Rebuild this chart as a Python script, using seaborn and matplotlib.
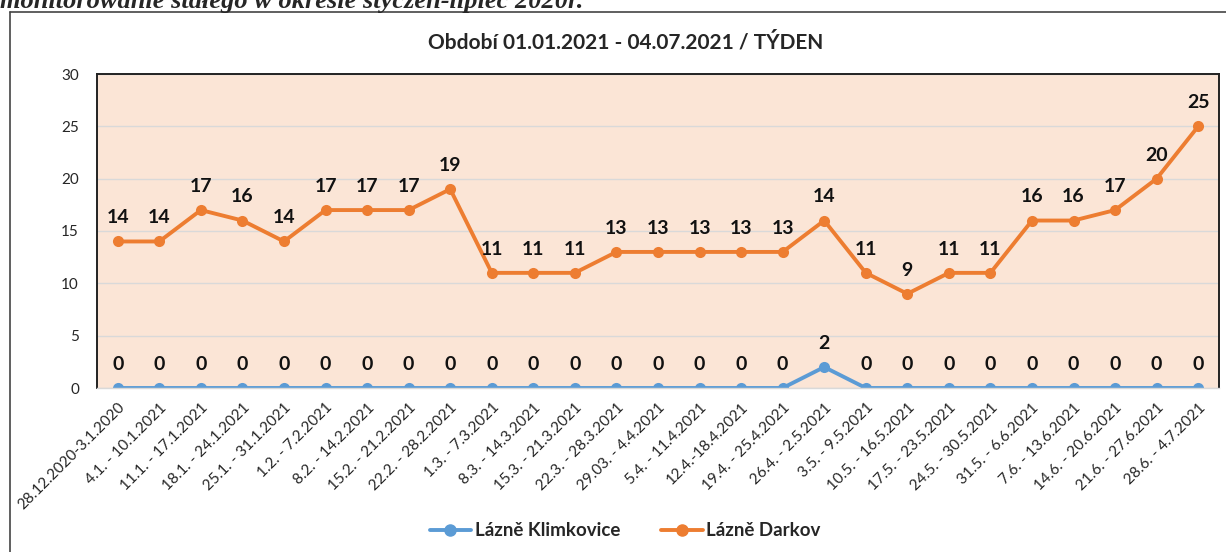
import numpy as np
import pandas as pd
import seaborn as sns
import matplotlib.pyplot as plt
from matplotlib.lines import Line2D

weeks = ['28.12.2020-3.1.2020', '4.1. - 10.1.2021', '11.1. - 17.1.2021', '18.1. - 24.1.2021',
         '25.1. - 31.1.2021', '1.2. - 7.2.2021', '8.2. - 14.2.2021', '15.2. - 21.2.2021',
         '22.2. - 28.2.2021', '1.3. - 7.3.2021', '8.3. - 14.3.2021', '15.3. - 21.3.2021',
         '22.3. - 28.3.2021', '29.03. - 4.4.2021', '5.4. - 11.4.2021', '12.4.-18.4.2021',
         '19.4. - 25.4.2021', '26.4. - 2.5.2021', '3.5. - 9.5.2021', '10.5. - 16.5.2021',
         '17.5. - 23.5.2021', '24.5. - 30.5.2021', '31.5. - 6.6.2021', '7.6. - 13.6.2021',
         '14.6. - 20.6.2021', '21.6. - 27.6.2021', '28.6. - 4.7.2021']
klimkovice = [0, 0, 0, 0, 0, 0, 0, 0, 0, 0, 0, 0, 0, 0, 0, 0, 0, 2, 0, 0, 0, 0, 0, 0, 0, 0, 0]
darkov = [14, 14, 17, 16, 14, 17, 17, 17, 19, 11, 11, 11, 13, 13, 13, 13, 13, 16, 11, 9, 11, 11, 16, 16, 17, 20, 25]
# labels as printed in the source chart (the 26.4. point is labelled 14)
darkov_labels = [14, 14, 17, 16, 14, 17, 17, 17, 19, 11, 11, 11, 13, 13, 13, 13, 13, 14, 11, 9, 11, 11, 16, 16, 17, 20, 25]
series = ['Lázně Klimkovice', 'Lázně Darkov']
colors = ['#5B9BD5', '#ED7D31']

df = pd.concat([
    pd.DataFrame({'Týden': weeks, 'Počet': klimkovice, 'Lázně': series[0]}),
    pd.DataFrame({'Týden': weeks, 'Počet': darkov, 'Lázně': series[1]}),
])
df['x'] = df['Týden'].map({w: i for i, w in enumerate(weeks)})

sns.set_style('white')
plt.rcParams['font.family'] = ['Lato', 'DejaVu Sans']

fig = plt.figure(figsize=(12.26, 5.52), dpi=100)
ax = fig.add_axes([97 / 1226, 1 - 388 / 552, 1122 / 1226, 314 / 552])
ax.set_facecolor('#FBE5D6')

sns.lineplot(data=df, x='x', y='Počet', hue='Lázně', palette=colors, marker='o',
             markersize=8, markeredgewidth=0, linewidth=2.8, sort=False, ax=ax, legend=False)

# data labels
for vals, labs in [(klimkovice, klimkovice), (darkov, darkov_labels)]:
    for i, v in enumerate(vals):
        ax.annotate(str(labs[i]), (i, v), xytext=(0, 17), textcoords='offset points',
                    ha='center', va='center', fontsize=14, fontweight='bold', color='#111111')

ax.set_xlim(-0.5, len(weeks) - 0.5)
ax.set_ylim(0, 30)
ax.set_yticks(range(0, 31, 5))
ax.set_xticks(range(len(weeks)))
ax.set_xticklabels(weeks, rotation=45, ha='right', rotation_mode='anchor', fontsize=11)
ax.tick_params(axis='y', labelsize=11, length=0, pad=13)
ax.tick_params(axis='x', length=0, pad=9)
ax.grid(axis='y', color='#D9D9D9', linewidth=1)
ax.set_axisbelow(True)
ax.set_xlabel('')
ax.set_ylabel('')
for s in ['left', 'top', 'right']:
    ax.spines[s].set_color('#222222')
    ax.spines[s].set_linewidth(1.4)
ax.spines['bottom'].set_color('#D9D9D9')
ax.spines['bottom'].set_linewidth(1)

fig.text(0.51, 1 - 42 / 552, 'Období 01.01.2021 - 04.07.2021 / TÝDEN', ha='center', va='center',
         fontsize=15, fontweight='bold')

# chart frame
fig.add_artist(Line2D([10 / 1226, 10 / 1226], [0, 1 - 12 / 552], transform=fig.transFigure,
                      color='#444444', linewidth=1.2))
fig.add_artist(Line2D([10 / 1226, 1], [1 - 12 / 552, 1 - 12 / 552], transform=fig.transFigure,
                      color='#444444', linewidth=1.2))

# cut-off line of document text above the chart
fig.text(0.0, 1 - 8 / 552, 'monitorowanie stałego w okresie styczeń-lipiec 2020r.', ha='left',
         va='baseline', fontsize=19, fontweight='bold', style='italic', family='Liberation Serif')

handles = [Line2D([], [], color=c, marker='o', markersize=8, linewidth=2.8) for c in colors]
fig.legend(handles, series, loc='center', bbox_to_anchor=(0.51, 1 - 531 / 552), ncol=2,
           frameon=False, prop={'weight': 'bold', 'size': 13.5}, handlelength=2.2,
           handletextpad=0.2, columnspacing=2.2)

fig.savefig('out.png', dpi=100)
